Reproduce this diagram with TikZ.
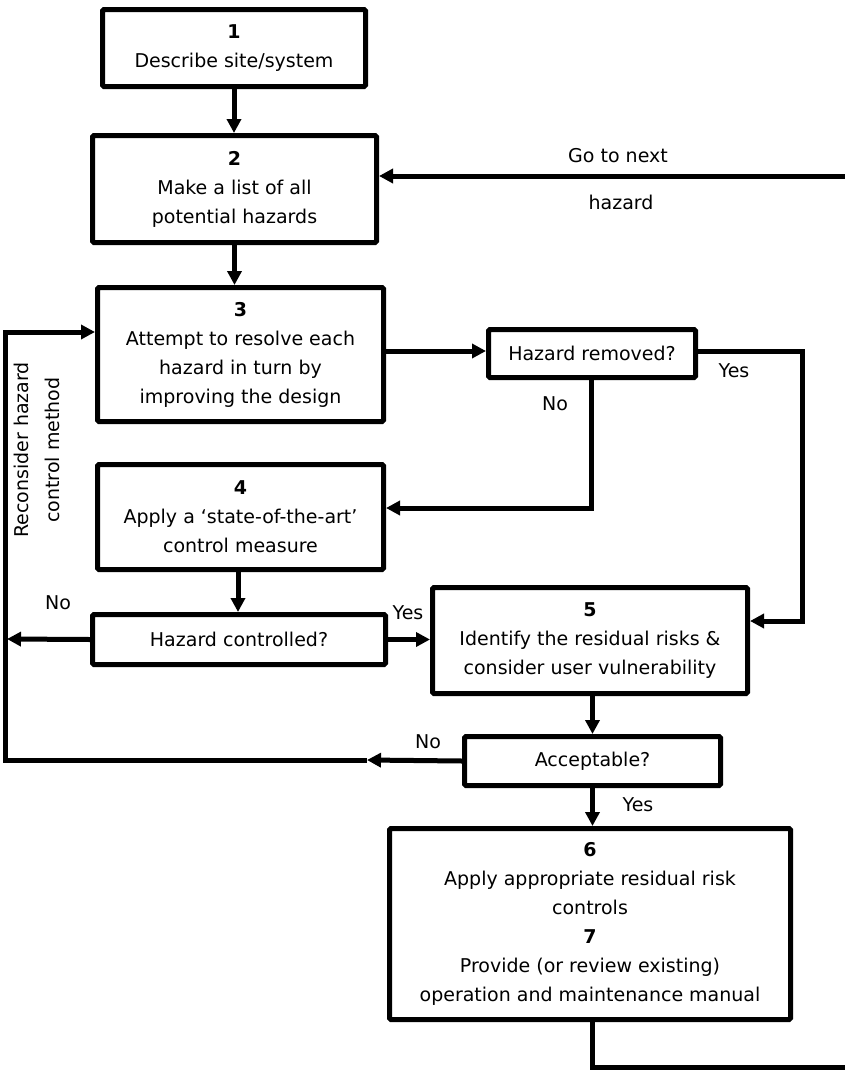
\documentclass[tikz,border=0pt]{standalone}
\usepackage{fontspec}
\setmainfont{DejaVu Sans}
\usetikzlibrary{positioning,calc,arrows.meta}

\begin{document}
\begin{tikzpicture}[x=1pt,y=-1pt,
    box/.style={draw, line width=5pt, rounded corners=1.5pt, align=center, inner sep=0pt,
      font=\fontsize{19}{29}\selectfont},
    lbl/.style={inner sep=0pt, align=center, font=\fontsize{19}{23}\selectfont},
    wire/.style={line width=5pt},
    flow/.style={line width=5pt, -{Triangle[length=14pt,width=14pt]}}]

    \useasboundingbox (0,0) rectangle (844,1071);

    \node[box, minimum width=263, minimum height=77] (s1) at (234,48)
      {\textbf{1}\\Describe site/system};
    \node[box, minimum width=284, minimum height=107] (s2) at (234.5,189)
      {\textbf{2}\\Make a list of all\\potential hazards};
    \node[box, minimum width=286, minimum height=134] (s3) at (240.5,354.5)
      {\textbf{3}\\Attempt to resolve each\\hazard in turn by\\improving the design};
    \node[box, minimum width=207, minimum height=48] (q_removed) at (592,353.5)
      {Hazard removed?};
    \node[box, minimum width=286, minimum height=105] (s4) at (240.5,517)
      {\textbf{4}\\Apply a ‘state-of-the-art’\\control measure};
    \node[box, minimum width=293, minimum height=50] (q_controlled) at (239,639.5)
      {Hazard controlled?};
    \node[box, minimum width=315, minimum height=106] (s5) at (590,640.5)
      {\textbf{5}\\Identify the residual risks \&\\consider user vulnerability};
    \node[box, minimum width=256, minimum height=49] (q_accept) at (592.5,761)
      {Acceptable?};
    \node[box, minimum width=401, minimum height=191] (s6) at (590,924)
      {\textbf{6}\\Apply appropriate residual risk\\controls\\\textbf{7}\\Provide (or review existing)\\operation and maintenance manual};

    \coordinate (yes_r) at (802,351);
    \coordinate (no_r) at (591,508);
    \coordinate (into5) at (802,621);
    \coordinate (hc_l) at (7,639);
    \coordinate (m_no) at (367,760);
    \coordinate (c_bl) at (5,760);
    \coordinate (c_tl) at (5,332);
    \coordinate (ret_b) at (850,1067);
    \coordinate (ret_t) at (850,176);

    \draw[flow] (s1.south) -- (s1.south |- s2.north);
    \draw[flow] (s2.south) -- (s2.south |- s3.north);
    \draw[flow] (s3.east |- yes_r) -- (q_removed.west |- yes_r);
    \draw[flow] (q_removed.east |- yes_r) -- (yes_r) -- (into5) -- (into5 -| s5.east);
    \draw[flow] (q_removed.south -| no_r) -- (no_r) -- (no_r -| s4.east);
    \draw[flow] (s4.south -| 238,0) -- (238,0 |- q_controlled.north);
    \draw[flow] (q_controlled.east) -- (q_controlled.east -| s5.west);
    \draw[flow] (q_controlled.west) -- (hc_l);
    \draw[flow] (s5.south -| q_accept.north) -- (q_accept.north);
    \draw[flow] (q_accept.west) -- (m_no);
    \draw[flow] (m_no) -- (c_bl) -- (c_tl) -- (c_tl -| s3.west);
    \draw[flow] (q_accept.south) -- (q_accept.south |- s6.north);
    \draw[wire] (s6.south -| q_accept.south) -- (q_accept.south |- ret_b) -- (ret_b);
    \draw[flow] (ret_t) -- (ret_t -| s2.east);

    \node[lbl] (go_next) at (618,156) {Go to next};
    \node[lbl] (go_hazard) at (621,202) {hazard};
    \node[lbl] (l_yes1) at (734,371) {Yes};
    \node[lbl] (l_no1) at (555,404) {No};
    \node[lbl] (l_no2) at (58,603) {No};
    \node[lbl] (l_yes2) at (408,613) {Yes};
    \node[lbl] (l_no3) at (428,742) {No};
    \node[lbl] (l_yes3) at (638,805) {Yes};
    \node[lbl, rotate=90, font=\fontsize{19}{31}\selectfont] (l_reconsider) at (37,450)
      {Reconsider hazard\\control method};
\end{tikzpicture}
\end{document}
